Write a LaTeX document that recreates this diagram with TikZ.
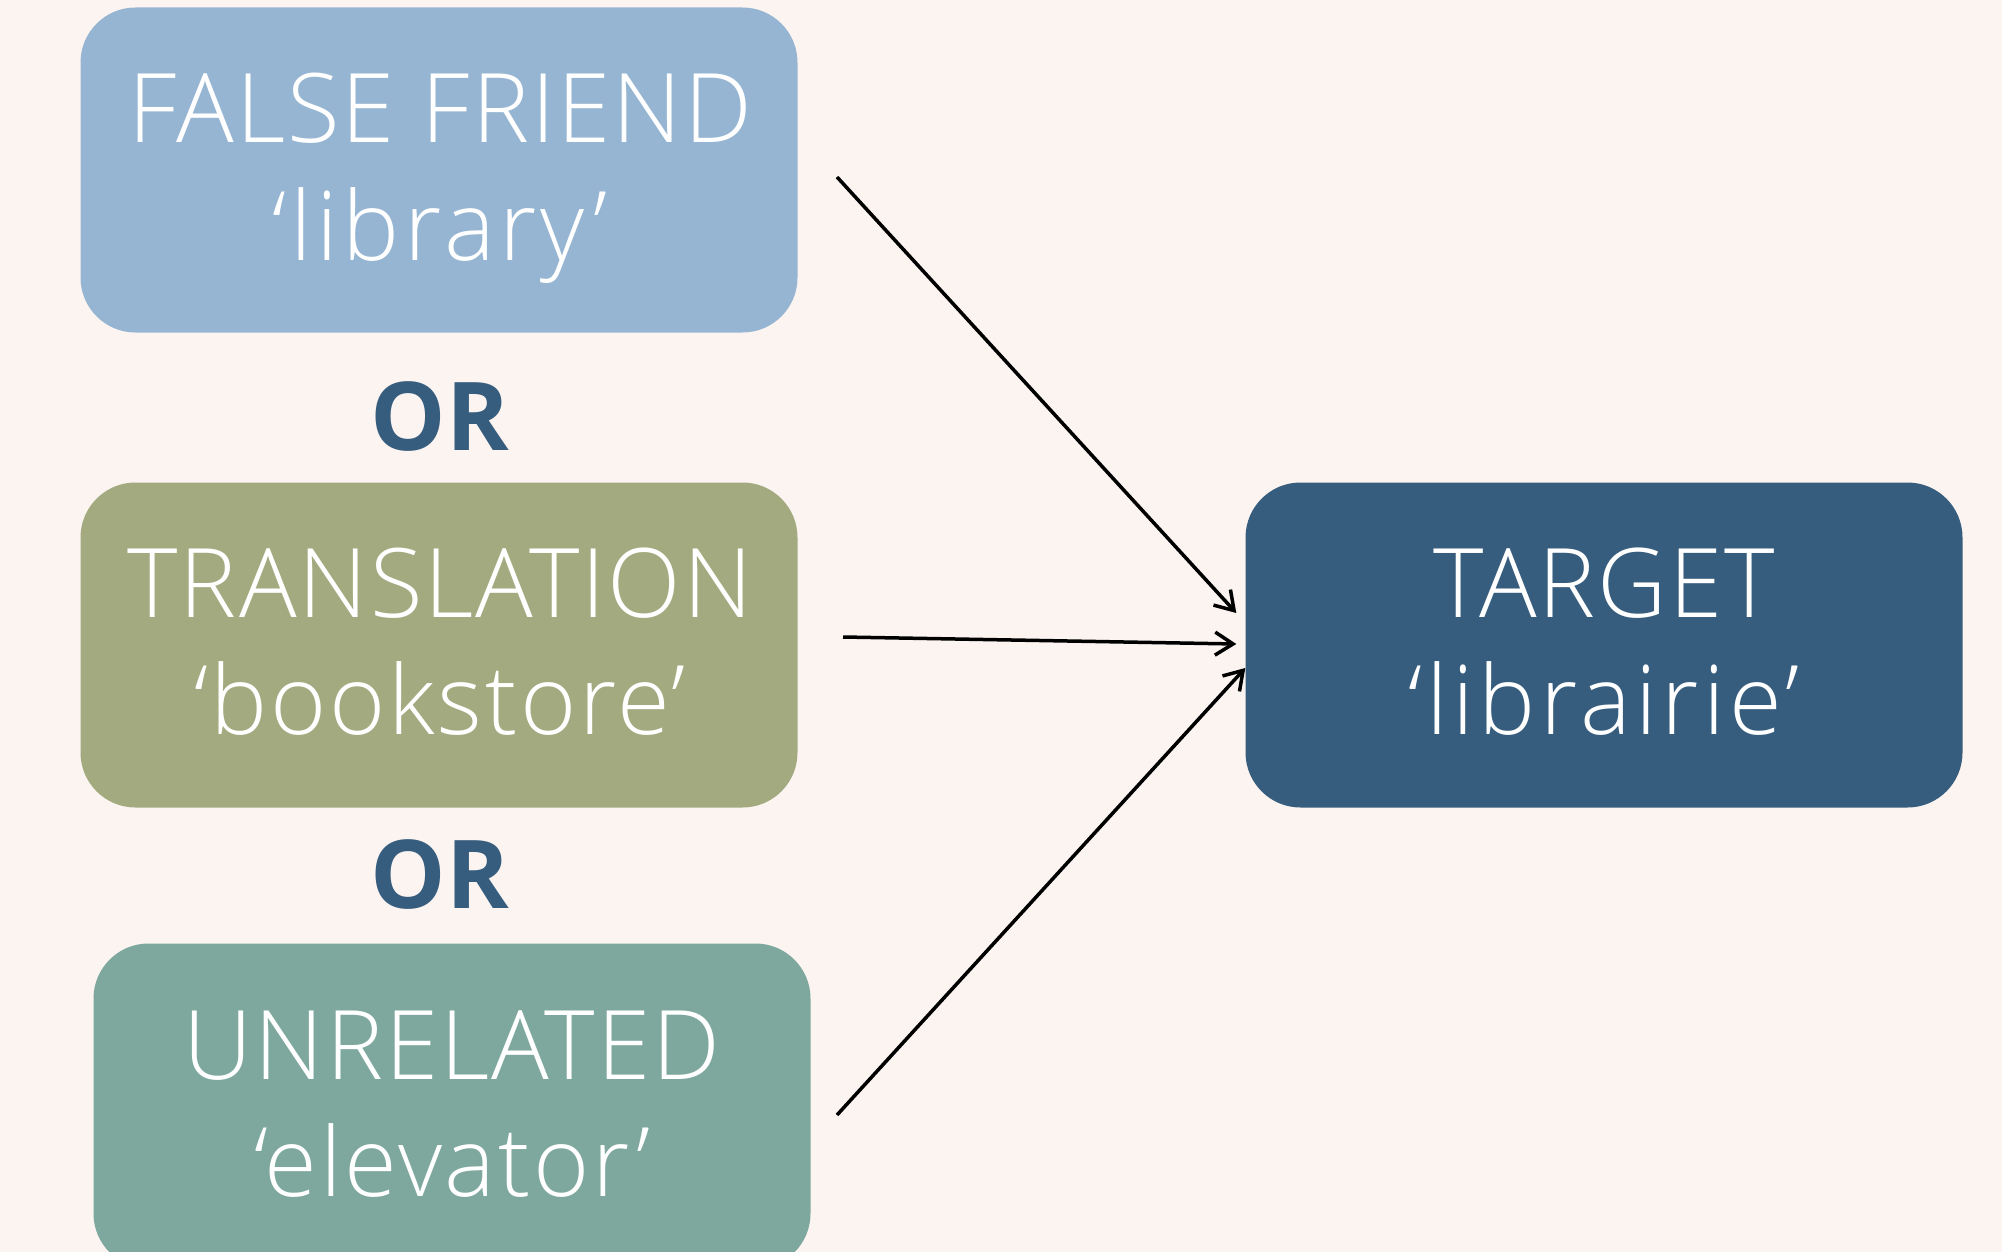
\documentclass[tikz,border=0pt]{standalone}
\usepackage{fontspec}
\setmainfont{Open Sans}
\newfontfamily\lightfont{Open Sans Light}[LetterSpace=2.2]
\newfontfamily\lightfontwide{Open Sans Light}[LetterSpace=4.5]
\newfontfamily\lightfontmid{Open Sans Light}[LetterSpace=2.8]
\newfontfamily\boldfont{Open Sans}[UprightFont={* Bold}]
\usetikzlibrary{arrows.meta,calc}
\definecolor{bg}{HTML}{FCF4F1}
\definecolor{cfalse}{HTML}{96B5D2}
\definecolor{ctrans}{HTML}{A4AA80}
\definecolor{cunrel}{HTML}{7EA89E}
\definecolor{ctarget}{HTML}{365D7E}
\tikzset{
  box/.style={rounded corners=55pt, inner sep=0pt, minimum width=717pt, minimum height=325pt},
  txt/.style={text=white, anchor=base, inner sep=0pt, font=\lightfont\fontsize{96}{110}\selectfont},
  txtlow/.style={text=white, anchor=base, inner sep=0pt, font=\lightfontwide\fontsize{96}{110}\selectfont},
  txtmid/.style={text=white, anchor=base, inner sep=0pt, font=\lightfontmid\fontsize{96}{110}\selectfont},
  orlbl/.style={text=ctarget, anchor=base, inner sep=0pt, font=\boldfont\fontsize{95}{110}\selectfont},
  arr/.style={line width=3.5pt, -{Straight Barb[length=18pt,width=23pt,line width=3.5pt]}}
}
\begin{document}
\begin{tikzpicture}[x=1pt,y=-1pt]
\fill[bg] (0,0) rectangle (2002,1252);
\useasboundingbox (0,0) rectangle (2002,1252);
\node[box, fill=cfalse] (false) at (439,170) {};
\node[box, fill=ctrans] (trans) at (439,645) {};
\node[box, fill=cunrel] (unrel) at (452,1106) {};
\node[box, fill=ctarget] (target) at (1604,645) {};
\node[txt] (falseA) at (440,143) {FALSE FRIEND};
\node[txtlow] (falseB) at (440,260) {‘library’};
\node[txt] (transA) at (440,617) {TRANSLATION};
\node[txtmid] (transB) at (440,734) {‘bookstore’};
\node[txt] (unrelA) at (452,1079) {UNRELATED};
\node[txtmid] (unrelB) at (452,1196) {‘elevator’};
\node[txt] (targetA) at (1604,617) {TARGET};
\node[txtlow] (targetB) at (1604,734) {‘librairie’};
\node[orlbl] (or1) at (440,450) {OR};
\node[orlbl] (or2) at (440,908) {OR};
\coordinate (s1) at (837,177);
\coordinate (s2) at (843,637);
\coordinate (s3) at (837,1115);
\coordinate (t1) at ($(target.west)+(-9,-32)$);
\coordinate (t2) at ($(target.west)+(-9,-1)$);
\coordinate (t3) at ($(target.west)+(0,23)$);
\draw[arr] (s1) -- (t1);
\draw[arr] (s2) -- (t2);
\draw[arr] (s3) -- (t3);
\end{tikzpicture}
\end{document}
